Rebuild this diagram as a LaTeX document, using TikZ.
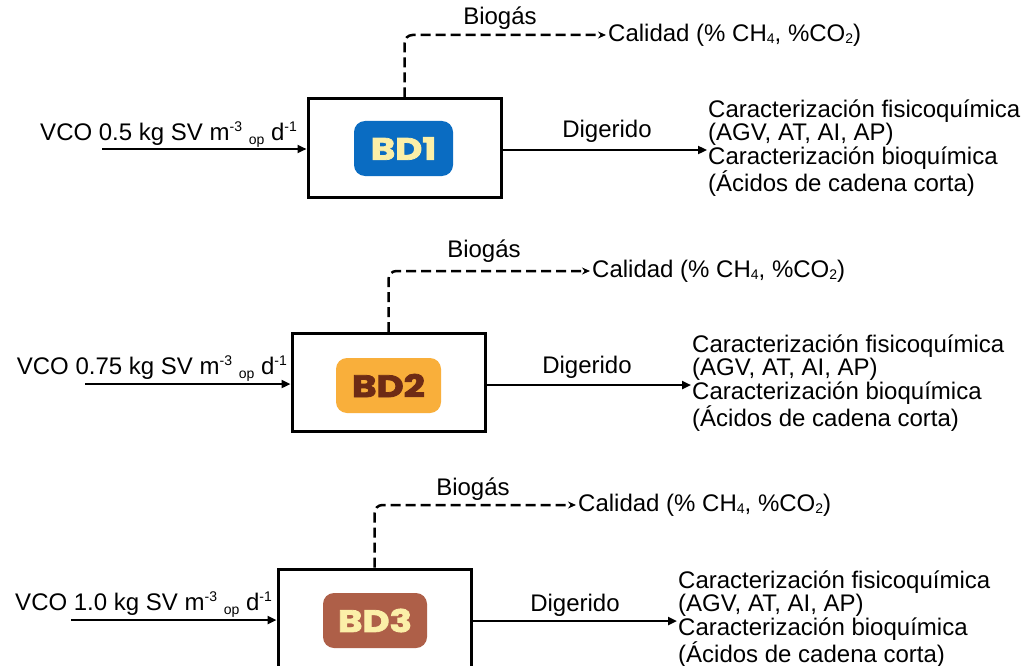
\documentclass[tikz,border=0pt]{standalone}
\usepackage{fontspec}
\setmainfont{Liberation Sans}
\newfontfamily\bdfont{Poppins}[BoldFeatures={FakeBold=2.5}]
\usetikzlibrary{arrows.meta}

\definecolor{bdblue}{HTML}{0A6CC2}
\definecolor{bdorange}{HTML}{F9AF3B}
\definecolor{bdbrown}{HTML}{AE5F48}
\definecolor{bdcream}{HTML}{FBEFA8}
\definecolor{bddark}{HTML}{6E2B15}

\newcommand{\sub}[2][-4pt]{\raisebox{#1}{\fontsize{14}{14}\selectfont #2}}
\newcommand{\sups}[1]{\raisebox{9pt}{\fontsize{14}{14}\selectfont #1}}
\newcommand{\vco}[1]{VCO #1 kg SV m\sups{-3} \sub{op} d\sups{-1}}
\newcommand{\calidad}{Calidad (\% CH\sub[-2.5pt]{4}, \%CO\sub[-2.5pt]{2})}
\newcommand{\salida}{Caracterización fisicoquímica\\(AGV, AT, AI, AP)\\Caracterización bioquímica\\(Ácidos de cadena corta)}
\newcommand{\bdlabel}[1]{\scalebox{1.2}[1]{#1}}

\begin{document}
\begin{tikzpicture}[x=1pt,y=-1pt,
  font=\fontsize{24}{23.5}\selectfont,
  reactor/.style={draw=black, line width=3pt, fill=white, minimum width=193pt, minimum height=98pt, inner sep=0pt},
  bdbox/.style={rounded corners=11pt, minimum height=55pt, inner sep=0pt,
                font=\bdfont\bfseries\fontsize{31}{31}\selectfont},
  flow/.style={line width=2.5pt, -{Triangle[length=9pt,width=8pt]}},
  gas/.style={line width=2.5pt, dash pattern=on 10pt off 5pt, rounded corners=8pt,
              -{Stealth[length=8pt,width=7pt]}},
  lbl/.style={anchor=base, inner sep=0pt},
  outtxt/.style={anchor=west, align=left, inner xsep=1pt, inner ysep=0pt}
]
\useasboundingbox (0,0) rectangle (1030,666);

% ---- BD1 ----
\node[reactor] (r1) at (404.5,148) {};
\node[bdbox, fill=bdblue, text=bdcream, minimum width=99pt] (b1) at (403.5,148.5) {\bdlabel{BD1}};
\coordinate (in1) at (102,149);
\draw[flow] (in1) -- (in1 -| r1.west);
\node[lbl, anchor=base east] (v1) at (297,140) {\vco{0.5}};
\node[anchor=west, inner xsep=2pt] (c1) at (606,35) {\calidad};
\draw[gas] (r1.north) |- (c1.west);
\node[lbl] (g1) at (500,25) {Biogás};
\node[outtxt] (o1) at (707,148) {\salida};
\draw[flow] (r1.east |- 0,150) -- (o1.west |- 0,150);
\node[lbl] (d1) at (607,138) {Digerido};

% ---- BD2 ----
\node[reactor] (r2) at (388.5,382.5) {};
\node[bdbox, fill=bdorange, text=bddark, minimum width=105pt] (b2) at (388.5,385.5) {\bdlabel{BD2}};
\coordinate (in2) at (85,384);
\draw[flow] (in2) -- (in2 -| r2.west);
\node[lbl, anchor=base east] (v2) at (287,374) {\vco{0.75}};
\node[anchor=west, inner xsep=2pt] (c2) at (590,271) {\calidad};
\draw[gas] (r2.north) |- (c2.west);
\node[lbl] (g2) at (484,257) {Biogás};
\node[outtxt] (o2) at (691,383) {\salida};
\draw[flow] (r2.east |- 0,385) -- (o2.west |- 0,385);
\node[lbl] (d2) at (587,373) {Digerido};

% ---- BD3 ----
\node[reactor] (r3) at (374.5,618) {};
\node[bdbox, fill=bdbrown, text=bdcream, minimum width=104pt] (b3) at (375,620.5) {\bdlabel{BD3}};
\coordinate (in3) at (71,620);
\draw[flow] (in3) -- (in3 -| r3.west);
\node[lbl, anchor=base east] (v3) at (272,610) {\vco{1.0}};
\node[anchor=west, inner xsep=2pt] (c3) at (576,505) {\calidad};
\draw[gas] (r3.north) |- (c3.west);
\node[lbl] (g3) at (473,495) {Biogás};
\node[outtxt] (o3) at (677,619) {\salida};
\draw[flow] (r3.east |- 0,621) -- (o3.west |- 0,621);
\node[lbl] (d3) at (575,611) {Digerido};
\end{tikzpicture}
\end{document}
